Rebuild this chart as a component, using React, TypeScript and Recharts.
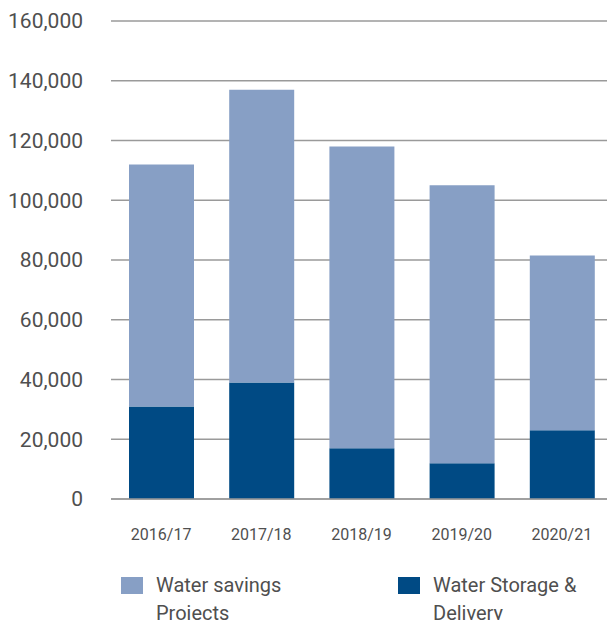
import { BarChart, Bar, XAxis, YAxis, CartesianGrid, Legend } from 'recharts';

const years = ['2016/17', '2017/18', '2018/19', '2019/20', '2020/21'];
const storageDelivery = [31000, 39000, 17000, 12000, 23000];
const savingsProjects = [81000, 98000, 101000, 93000, 58500];
const yTicks = [0, 20000, 40000, 60000, 80000, 100000, 120000, 140000, 160000];

const LIGHT = '#879fc5';
const DARK = '#004a84';
const TEXT = '#4f4f4f';
const FONT = 'Roboto, "Noto Sans", sans-serif';

const data = years.map((year, i) => ({
  year,
  storage: storageDelivery[i],
  savings: savingsProjects[i],
}));

const legendItems = [
  { label: 'Water savings Projects', color: LIGHT, left: 121, width: 150 },
  { label: 'Water Storage & Delivery', color: DARK, left: 398, width: 165 },
];

function renderLegend() {
  return (
    <div style={{ position: 'relative', width: 607, height: 48, fontFamily: FONT }}>
      {legendItems.map((item) => (
        <div key={item.label} style={{ position: 'absolute', left: item.left, top: 0 }}>
          <div
            style={{
              position: 'absolute',
              left: 0,
              top: 6,
              width: 22,
              height: 17,
              background: item.color,
            }}
          />
          <div
            style={{
              position: 'absolute',
              left: 35,
              top: 0,
              width: item.width,
              fontSize: 20,
              lineHeight: '28px',
              color: TEXT,
            }}
          >
            {item.label}
          </div>
        </div>
      ))}
    </div>
  );
}

export default function App() {
  return (
    <div
      style={{
        position: 'absolute',
        left: 0,
        top: 0,
        width: 607,
        height: 620,
        overflow: 'hidden',
        background: '#fff',
      }}
    >
      <BarChart
        width={612}
        height={620}
        data={data}
        margin={{ top: 21, right: 0, left: 0, bottom: 0 }}
      >
        <CartesianGrid vertical={false} stroke="#9a9a9a" strokeWidth={1.5} />
        <XAxis
          dataKey="year"
          height={121}
          tickLine={false}
          tickSize={0}
          tickMargin={30}
          axisLine={{ stroke: '#9a9a9a', strokeWidth: 1.5 }}
          tick={{ fill: TEXT, fontSize: 16, fontFamily: FONT }}
        />
        <YAxis
          width={111}
          domain={[0, 160000]}
          ticks={yTicks}
          axisLine={false}
          tickLine={false}
          tickSize={0}
          tickMargin={28}
          tickFormatter={(v: number) => v.toLocaleString('en-US')}
          tick={{ fill: TEXT, fontSize: 21, fontFamily: FONT }}
        />
        <Legend
          layout="vertical"
          align="center"
          verticalAlign="middle"
          wrapperStyle={{ left: 0, top: 571, width: 607, height: 48 }}
          content={renderLegend}
        />
        <Bar dataKey="storage" name="Water Storage & Delivery" stackId="a" fill={DARK} barSize={65} isAnimationActive={false} />
        <Bar dataKey="savings" name="Water savings Projects" stackId="a" fill={LIGHT} barSize={65} isAnimationActive={false} />
      </BarChart>
    </div>
  );
}
